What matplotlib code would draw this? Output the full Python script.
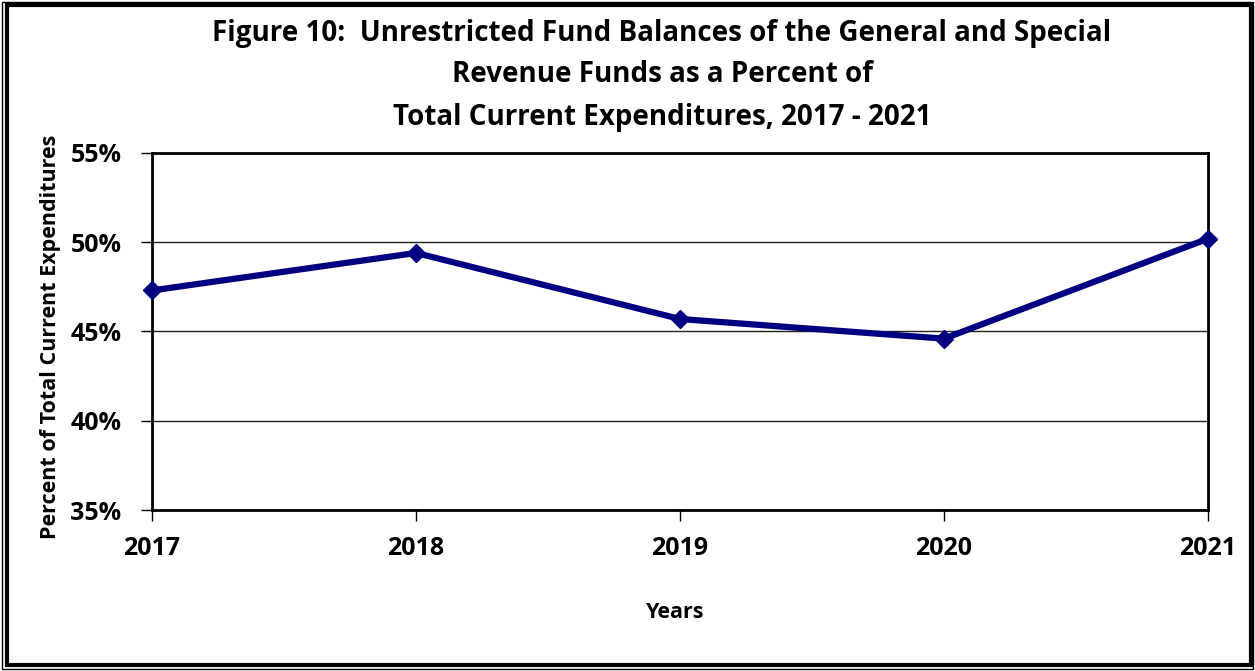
import matplotlib
matplotlib.use('Agg')
import matplotlib.pyplot as plt
from matplotlib.patches import Rectangle
from matplotlib.ticker import FuncFormatter

years = ['2017', '2018', '2019', '2020', '2021']
fund_pct = [47.3, 49.4, 45.7, 44.6, 50.2]
y_ticks = [35, 40, 45, 50, 55]

title_lines = ['Figure 10:  Unrestricted Fund Balances of the General and Special',
               'Revenue Funds as a Percent of',
               'Total Current Expenditures, 2017 - 2021']

plt.rcParams['font.family'] = ['Open Sans', 'DejaVu Sans']
plt.rcParams['font.weight'] = 'bold'

W, H = 1255, 671
fig = plt.figure(figsize=(W / 100, H / 100), dpi=100)
ax = fig.add_axes([152 / W, 1 - 510 / H, (1208 - 152) / W, (510 - 153) / H])

x = list(range(len(years)))
ax.plot(x, fund_pct, color='#000080', lw=4.5, marker='D', ms=9,
        markerfacecolor='#000080', markeredgecolor='#000080', zorder=3,
        clip_on=False)

ax.set_xlim(0, len(years) - 1)
ax.set_ylim(35, 55)
ax.set_yticks(y_ticks)
ax.yaxis.set_major_formatter(FuncFormatter(lambda v, _: f'{v:.0f}%'))
ax.set_xticks(x)
ax.set_xticklabels(years)
ax.grid(axis='y', color='#222222', lw=1)
ax.set_axisbelow(True)

for s in ax.spines.values():
    s.set_linewidth(2)
ax.tick_params(axis='both', direction='out', length=8, width=1, labelsize=18)
for lab in ax.get_xticklabels() + ax.get_yticklabels():
    lab.set_fontweight('bold')
ax.tick_params(axis='x', pad=11)
ax.tick_params(axis='y', pad=14)

fig.text(51 / W, 1 - 337 / H, 'Percent of Total Current Expenditures',
         rotation=90, ha='center', va='center', fontsize=15.5, fontweight='bold')
fig.text(675 / W, 1 - 612 / H, 'Years', ha='center', va='center',
         fontsize=15.5, fontweight='bold')

for i, line in enumerate(title_lines):
    fig.text(662 / W, 1 - (33 + 42 * i) / H, line, ha='center', va='center',
             fontsize=20, fontweight='bold')

# double frame around the whole figure
fig.add_artist(Rectangle((2 / W, 2 / H), (W - 4) / W, (H - 4) / H,
                         transform=fig.transFigure, fill=False, lw=1,
                         edgecolor='black'))
fig.add_artist(Rectangle((6.5 / W, 6.5 / H), (W - 11) / W, (H - 11) / H,
                         transform=fig.transFigure, fill=False, lw=3,
                         edgecolor='black'))

fig.savefig('out.png', dpi=100)
